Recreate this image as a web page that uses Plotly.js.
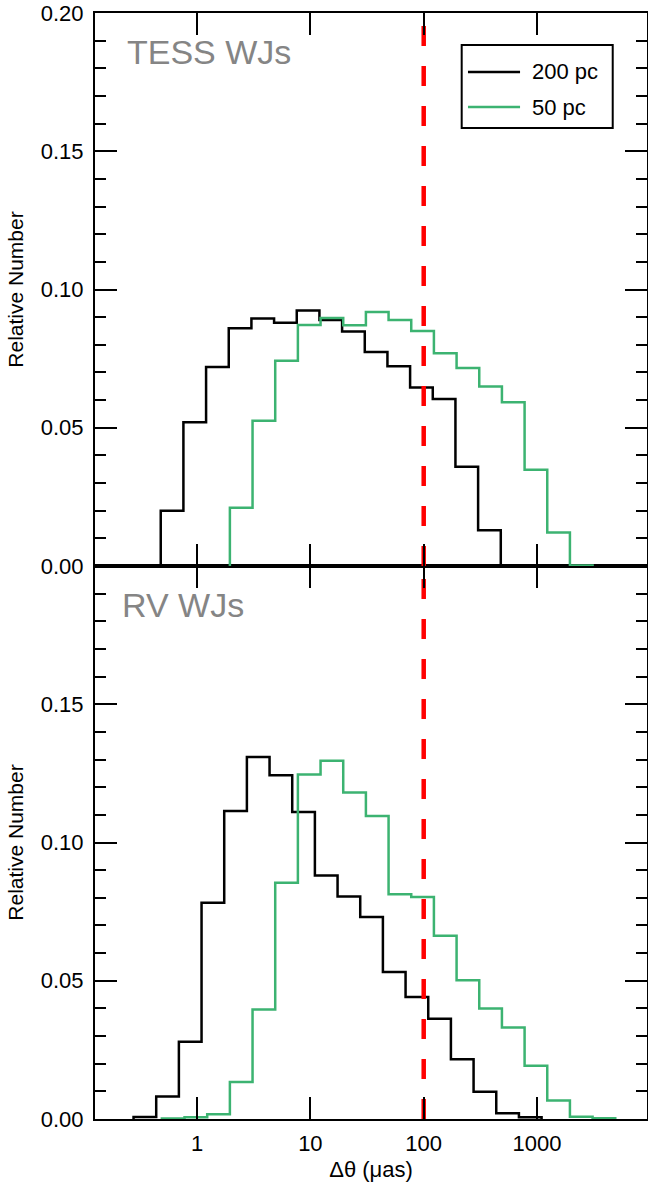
<!DOCTYPE html>
<html>
<head>
<meta charset="utf-8">
<script src="https://cdn.plot.ly/plotly-3.0.1.min.js"></script>
<style>html,body{margin:0;padding:0;background:#fff}</style>
</head>
<body>
<div id="chart" style="width:648px;height:1182px"></div>
<script>
// Angular separation histograms, bins 0.2 dex wide in log10(Δθ / µas)
const BIN_DEX = 0.2;

// TESS warm Jupiters
const tessFirstEdge200 = -0.32;
const tess200 = [0.020, 0.052, 0.072, 0.086, 0.0895, 0.088, 0.0924, 0.089,
                 0.0848, 0.0774, 0.0722, 0.0646, 0.0604, 0.0359, 0.0129, 0.0003];
const tessFirstEdge50 = 0.29;
const tess50 = [0.0211, 0.0525, 0.0742, 0.0872, 0.0897, 0.0871, 0.0919, 0.089,
                0.085, 0.0769, 0.0716, 0.0649, 0.0592, 0.0348, 0.0121, 0.0002];

// RV warm Jupiters
const rvFirstEdge200 = -0.56;
const rv200 = [0.0007, 0.0081, 0.0279, 0.0782, 0.1114, 0.1309, 0.1243, 0.111,
               0.0881, 0.0805, 0.0731, 0.0532, 0.0441, 0.0363, 0.0216, 0.0099,
               0.0021, 0.0006];
const rvFirstEdge50 = -0.31;
const rv50 = [0.0002, 0.0006, 0.0017, 0.0134, 0.0396, 0.0854, 0.1246, 0.1296,
              0.1181, 0.1096, 0.0813, 0.0803, 0.0663, 0.0502, 0.040, 0.0331,
              0.0193, 0.0067, 0.0008, 0.0003];

const seriesNames = ['200 pc', '50 pc'];
const seriesColors = ['#000000', '#3cb371'];
const panelLabels = ['TESS WJs', 'RV WJs'];
const astrometricLimit = 100; // µas

const xTickVals = [1, 10, 100, 1000];
const xTickText = ['1', '10', '100', '1000'];
const yTickVals = [0, 0.05, 0.10, 0.15, 0.20];
const topYTickText = ['0.00', '0.05', '0.10', '0.15', '0.20'];
const bottomYTickText = ['0.00', '0.05', '0.10', '0.15', ''];

// Outline of a histogram as an 'hv' step line
function stepLine(firstEdge, values) {
  const xs = [Math.pow(10, firstEdge)];
  const ys = [0];
  values.forEach((v, i) => {
    xs.push(Math.pow(10, firstEdge + i * BIN_DEX));
    ys.push(v);
  });
  xs.push(Math.pow(10, firstEdge + values.length * BIN_DEX));
  ys.push(0);
  return {xs, ys};
}

function histTrace(firstEdge, values, k, xa, ya) {
  const s = stepLine(firstEdge, values);
  return {
    type: 'scatter', mode: 'lines', x: s.xs, y: s.ys,
    xaxis: xa, yaxis: ya, name: seriesNames[k],
    line: {shape: 'hv', color: seriesColors[k], width: 2.5},
    showlegend: false, hoverinfo: 'skip'
  };
}

function limitTrace(xa, ya) {
  return {
    type: 'scatter', mode: 'lines',
    x: [astrometricLimit, astrometricLimit], y: [0, 0.2],
    xaxis: xa, yaxis: ya, showlegend: false, hoverinfo: 'skip',
    line: {color: '#ff0000', width: 4.5, dash: '20px,20px'}
  };
}

const traces = [
  histTrace(tessFirstEdge200, tess200, 0, 'x2', 'y2'),
  histTrace(tessFirstEdge50, tess50, 1, 'x2', 'y2'),
  histTrace(rvFirstEdge200, rv200, 0, 'x', 'y'),
  histTrace(rvFirstEdge50, rv50, 1, 'x', 'y'),
  limitTrace('x2', 'y2'),
  limitTrace('x', 'y')
];

const axisLine = {
  showline: true, linewidth: 2, linecolor: '#000', mirror: 'allticks',
  ticks: 'inside', ticklen: 22, tickwidth: 2, tickcolor: '#000',
  showgrid: false, zeroline: false
};

const xCommon = Object.assign({}, axisLine, {
  type: 'log', range: [-0.9, 3.97],
  tickmode: 'array', tickvals: xTickVals, ticktext: xTickText,
  ticklabelstandoff: 4
});

const yCommon = Object.assign({}, axisLine, {
  range: [0, 0.2], tickmode: 'array', tickvals: yTickVals,
  ticklabelstandoff: 5,
  minor: {dtick: 0.01, ticks: 'inside', ticklen: 11, tickwidth: 2, tickcolor: '#000', showgrid: false},
  title: {text: 'Relative Number', font: {size: 21}, standoff: 11}
});

// Boxed legend in the upper panel: frame, line samples and labels
const legendBox = {x0: 0.6643, x1: 0.9379, y0: 0.896, y1: 0.9711};
const legendRows = [0.9467, 0.915];
const legendShapes = [
  {type: 'rect', xref: 'paper', yref: 'paper',
   x0: legendBox.x0, x1: legendBox.x1, y0: legendBox.y0, y1: legendBox.y1,
   line: {color: '#000', width: 2}, fillcolor: '#fff', layer: 'above'}
].concat(seriesNames.map((n, k) => ({
  type: 'line', xref: 'paper', yref: 'paper',
  x0: 0.6757, x1: 0.770, y0: legendRows[k], y1: legendRows[k],
  line: {color: seriesColors[k], width: 2.5}, layer: 'above'
})));
const legendLabels = seriesNames.map((n, k) => ({
  text: n, xref: 'paper', yref: 'paper', x: 0.7880, y: legendRows[k],
  xanchor: 'left', yanchor: 'middle', showarrow: false, font: {size: 22, color: '#000'}
}));

const layout = {
  width: 648, height: 1182,
  margin: {l: 95, r: 1, t: 13, b: 63},
  paper_bgcolor: '#fff', plot_bgcolor: '#fff',
  font: {family: 'Liberation Sans, Arial, sans-serif', size: 22, color: '#000'},
  showlegend: false,
  xaxis: Object.assign({}, xCommon, {
    anchor: 'y',
    title: {text: 'Δθ (μas)', font: {size: 22}, standoff: 12}
  }),
  xaxis2: Object.assign({}, xCommon, {anchor: 'y2', matches: 'x', showticklabels: false}),
  yaxis: Object.assign({}, yCommon, {domain: [0, 0.5], anchor: 'x', ticktext: bottomYTickText}),
  yaxis2: Object.assign({}, yCommon, {domain: [0.5, 1], anchor: 'x2', ticktext: topYTickText}),
  shapes: legendShapes,
  annotations: [
    {text: panelLabels[0], xref: 'x2 domain', yref: 'y2 domain', x: 0.055, y: 0.93,
     xanchor: 'left', yanchor: 'middle', showarrow: false, font: {size: 34, color: '#858585'}},
    {text: panelLabels[1], xref: 'x domain', yref: 'y domain', x: 0.045, y: 0.93,
     xanchor: 'left', yanchor: 'middle', showarrow: false, font: {size: 34, color: '#858585'}}
  ].concat(legendLabels)
};

Plotly.newPlot('chart', traces, layout, {displayModeBar: false, staticPlot: true});
</script>
</body>
</html>
